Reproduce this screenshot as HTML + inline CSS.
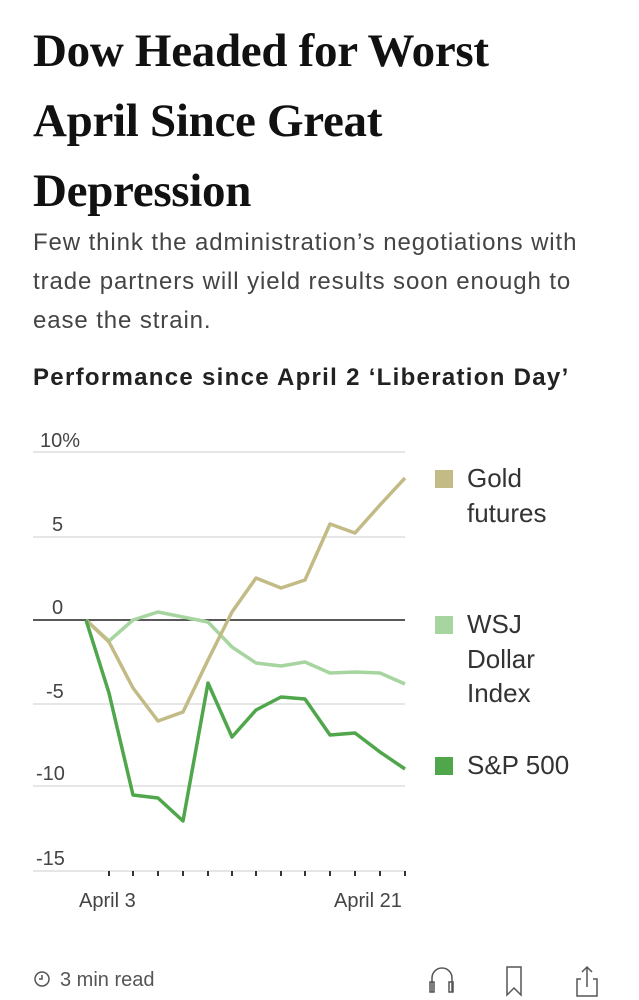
<!DOCTYPE html>
<html><head><meta charset="utf-8"><style>
body{margin:0;width:639px;height:1000px;background:#fff;overflow:hidden;font-family:"Liberation Sans",sans-serif;}
.t{position:absolute;left:33px;top:16px;font-family:"Liberation Serif",serif;font-weight:bold;font-size:47px;line-height:70px;color:#111;letter-spacing:-0.3px;}
.s{position:absolute;left:33px;top:223px;font-size:24px;line-height:39px;color:#444;letter-spacing:0.9px;white-space:nowrap;}
.c{position:absolute;left:33px;top:364px;font-size:24px;font-weight:bold;color:#222;letter-spacing:1.3px;}
</style></head><body>
<div class="t">Dow Headed for Worst<br>April Since Great<br>Depression</div>
<div class="s">Few think the administration’s negotiations with<br>trade partners will yield results soon enough to<br>ease the strain.</div>
<div class="c">Performance since April 2 ‘Liberation Day’</div>
<svg width="639" height="1000" style="position:absolute;left:0;top:0" font-family="Liberation Sans, sans-serif">
<g stroke="#ddd" stroke-width="1.5">
<line x1="33" x2="405" y1="452" y2="452"/><line x1="33" x2="405" y1="537" y2="537"/>
<line x1="33" x2="405" y1="704" y2="704"/><line x1="33" x2="405" y1="786" y2="786"/>
<line x1="33" x2="405" y1="871" y2="871"/></g>
<line x1="33" x2="405" y1="620" y2="620" stroke="#222" stroke-width="1.5"/>
<g fill="#444" font-size="20">
<text x="40" y="447">10%</text><text x="52" y="531">5</text><text x="52" y="614">0</text>
<text x="46" y="698">-5</text><text x="36" y="780">-10</text><text x="36" y="865">-15</text>
<text x="79" y="907">April 3</text><text x="334" y="907">April 21</text></g>
<g stroke="#333" stroke-width="2">
<line x1="109" x2="109" y1="871" y2="876"/><line x1="133" x2="133" y1="871" y2="876"/><line x1="158" x2="158" y1="871" y2="876"/><line x1="183" x2="183" y1="871" y2="876"/><line x1="208" x2="208" y1="871" y2="876"/><line x1="232" x2="232" y1="871" y2="876"/><line x1="256" x2="256" y1="871" y2="876"/><line x1="281" x2="281" y1="871" y2="876"/><line x1="305" x2="305" y1="871" y2="876"/><line x1="330" x2="330" y1="871" y2="876"/><line x1="355" x2="355" y1="871" y2="876"/><line x1="380" x2="380" y1="871" y2="876"/><line x1="405" x2="405" y1="871" y2="876"/></g>
<g fill="none" stroke-width="3.5" stroke-linejoin="round">
<polyline stroke="#a6d59f" points="86,620 109,641 133,620 158,612 183,617 208,622 232,647 256,663 281,666 305,662 330,673 355,672 380,673 405,684"/>
<polyline stroke="#c3bb85" points="86,620 109,642 133,688 158,721 183,712 208,660 232,612 256,578 281,588 305,580 330,524 355,533 380,505 405,478"/>
<polyline stroke="#4fa64b" points="86,620 109,693 133,795 158,798 183,821 208,683 232,737 256,710 281,697 305,699 330,735 355,733 380,752 405,769"/>
</g>
<rect x="435" y="470" width="18" height="18" fill="#c3bb85"/>
<rect x="435" y="616" width="18" height="18" fill="#a6d59f"/>
<rect x="435" y="757" width="18" height="18" fill="#4fa64b"/>
<g fill="#333" font-size="26">
<text x="467" y="487">Gold</text><text x="467" y="522">futures</text>
<text x="467" y="633">WSJ</text><text x="467" y="668">Dollar</text><text x="467" y="702">Index</text>
<text x="467" y="774">S&amp;P 500</text></g>
<circle cx="42" cy="979" r="7" fill="none" stroke="#555" stroke-width="1.5"/>
<path d="M42 975v4h-3" fill="none" stroke="#555" stroke-width="1.5"/>
<text x="60" y="986" font-size="20" fill="#555">3 min read</text>
<g fill="none" stroke="#555" stroke-width="1.5">
<path d="M432 992v-14a10 10 0 0 1 20 0v14"/><rect x="430" y="982" width="4" height="10"/><rect x="449" y="982" width="4" height="10"/>
<path d="M507 967v28l7-7 7 7v-28z"/>
<path d="M581 979h-4v17h20v-17h-4M587 987v-20M582 972l5-5 5 5"/>
</g>
</svg>
</body></html>
